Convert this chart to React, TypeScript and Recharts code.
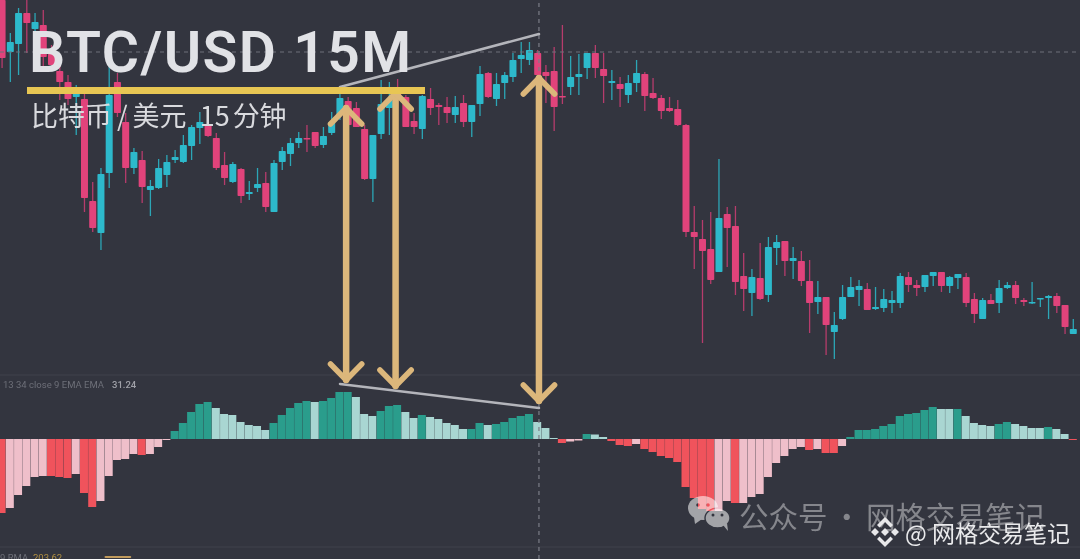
import React from "react";
import { ComposedChart, Bar, XAxis, YAxis, ReferenceLine } from "recharts";

const opens = [1000,948,956,987,971,975,950,929,918,903,901,799,767,827,918,878,832,840,810,812,825,840,838,854,872,876,862,835,818,831,806,812,817,788,838,846,857,862,868,855,867,885,899,892,871,821,866,892,910,903,879,871,901,895,893,885,897,878,896,927,901,917,923,941,940,947,928,929,904,913,923,932,947,931,917,916,905,917,926,907,902,892,891,875,768,761,751,728,786,774,724,707,722,705,752,759,739,739,719,698,703,668,681,703,710,711,691,692,697,697,723,715,713,724,728,714,722,723,701,681,700,697,712,715,700,697,701,702,704,695,666];
const closes = [942,958,987,977,978,943,935,918,901,907,802,772,826,905,887,832,848,813,814,832,838,843,855,873,878,864,832,822,836,804,808,816,793,837,849,857,862,861,854,864,878,902,875,873,821,865,896,900,900,873,873,904,892,893,887,893,878,895,926,903,916,925,940,945,950,925,924,893,903,923,926,947,932,924,919,911,917,927,904,902,889,889,875,768,763,749,720,782,772,718,711,723,701,753,758,739,742,719,697,703,675,675,703,713,714,690,693,701,700,724,715,712,725,728,714,723,726,697,686,700,696,712,715,702,698,698,702,704,694,673,671];
const highs = [1000,967,992,1000,987,990,955,938,925,915,907,818,832,942,927,887,852,849,820,841,845,850,865,875,888,883,867,848,838,832,819,832,828,840,853,862,868,875,868,873,888,908,903,898,875,865,920,918,921,905,887,905,912,897,903,904,905,895,934,928,927,928,947,958,958,950,935,953,975,944,946,947,955,947,930,923,925,940,928,922,905,903,900,876,794,780,788,841,793,794,747,731,757,763,765,759,753,749,740,719,703,688,715,723,720,717,713,711,709,727,728,720,725,728,728,724,726,727,707,702,706,720,718,719,702,718,702,705,707,695,681];
const lows = [932,918,925,947,950,934,930,900,895,865,788,768,750,812,883,817,826,797,784,811,813,837,837,840,856,863,830,815,817,797,800,808,788,788,830,834,852,848,852,852,865,880,870,873,820,798,861,865,892,873,866,861,885,875,877,877,873,863,884,902,894,901,918,927,935,915,897,869,896,905,905,921,922,897,900,893,897,908,889,901,881,888,874,763,731,657,716,728,733,705,689,684,700,698,735,724,721,714,667,686,645,641,680,703,694,690,690,688,687,692,708,704,708,714,708,707,711,693,677,681,696,687,711,696,694,696,693,681,687,666,666];
const macd = [-74,-69,-56,-47,-38,-37,-37,-38,-39,-35,-54,-68,-62,-37,-21,-20,-15,-16,-15,-8,-1,8,16,27,35,37,31,25,24,17,14,13,9,16,24,31,36,38,37,38,41,47,47,42,25,23,28,33,34,27,21,24,22,20,16,14,10,10,16,14,15,17,21,23,25,17,11,1,-4,-2.5,-1.5,5,4.5,2,-2,-6,-7,-5,-10,-13,-17,-19,-23,-48,-59,-70,-72,-72,-62,-64,-64,-58,-55,-38,-24,-17,-10,-8,-11,-10,-14,-14,-7,2,9,9,10,13,15,23,25,26,29,32,30,30,30,23,16,14,13,15,17,15,13,11,11,12,10,5,-1];
const macdStrong = [1,0,0,0,0,0,1,1,1,0,1,1,0,0,0,0,0,1,0,0,0,1,1,1,1,1,0,0,0,0,0,0,0,1,1,1,1,1,0,1,1,1,1,0,0,0,1,1,1,0,0,1,0,0,0,0,0,1,1,0,1,1,1,1,1,0,0,0,1,0,0,1,0,0,1,1,1,0,1,1,1,1,1,1,1,1,1,0,0,1,0,0,0,0,0,0,0,0,1,0,1,1,0,1,1,1,1,1,1,1,1,1,1,1,0,0,1,0,0,0,0,1,1,0,0,0,0,1,0,0,1];

const rows = opens.map((open, i) => ({
  i,
  open,
  close: closes[i],
  high: highs[i],
  low: lows[i],
  range: [lows[i], highs[i]],
  macd: macd[i],
  strong: macdStrong[i] === 1,
}));

const lastPriceLevel = 948;
const crosshairBar = 65.2;
const paneDividers = [625, 453];
const arrowBars = [41.8, 47.8, 65.2];
const arrowTops = [892, 907, 922];
const arrowTips = [620, 614, 599];
const priceTrend = [{ x: 41.06, y: 913 }, { x: 65.2, y: 966 }];
const macdTrend = [{ x: 41.06, y: 616 }, { x: 65.2, y: 592 }];
const titleRule = [{ x: 3.07, y: 909.5 }, { x: 51.37, y: 909.5 }];
const bottomMark = [{ x: 12.6, y: 443 }, { x: 15.6, y: 443 }];

const BG = "#33353f";
const PINK = "#e1437b";
const TEAL = "#2db9cb";
const ARROW = "#dcb77b";

const Candle = (props: any) => {
  const { x, y, width, height, payload } = props;
  const { open, close, high, low } = payload;
  const span = high - low || 1;
  const toY = (p: number) => y + ((high - p) / span) * height;
  const cx = x + width / 2;
  const up = close >= open;
  const top = toY(Math.max(open, close));
  const bottom = toY(Math.min(open, close));
  return (
    <g>
      <line x1={cx} x2={cx} y1={y} y2={y + height} stroke={up ? "#2ca6b6" : "#b63c6c"} strokeWidth={1.3} />
      <rect x={x} y={top} width={width} height={Math.max(bottom - top, 1.5)} rx={0.8} fill={up ? TEAL : PINK} />
    </g>
  );
};

const MacdBar = (props: any) => {
  const { x, y, width, height, payload } = props;
  const fill = payload.macd >= 0
    ? payload.strong ? "#2a9d8c" : "#a9d6d2"
    : payload.strong ? "#f0535c" : "#efbfca";
  return <rect x={x} y={height < 0 ? y + height : y} width={width} height={Math.abs(height)} fill={fill} />;
};

const seg = (key: string, a: any, b: any, stroke: string, strokeWidth: number) => (
  <ReferenceLine
    key={key}
    xAxisId="candles"
    yAxisId="price"
    segment={[a, b]}
    stroke={stroke}
    strokeWidth={strokeWidth}
    strokeLinecap="round"
    ifOverflow="visible"
  />
);

const arrows = arrowBars.flatMap((b, k) => {
  const top = arrowTops[k];
  const tip = arrowTips[k];
  const dx = 1.9;
  const dy = 16;
  return [
    seg(`shaft${k}`, { x: b, y: top }, { x: b, y: tip }, ARROW, 6.5),
    seg(`a${k}`, { x: b, y: top }, { x: b - dx, y: top - dy }, ARROW, 5.5),
    seg(`c${k}`, { x: b, y: top }, { x: b + dx, y: top - dy }, ARROW, 5.5),
    seg(`d${k}`, { x: b, y: tip }, { x: b - dx, y: tip + dy }, ARROW, 5.5),
    seg(`e${k}`, { x: b, y: tip }, { x: b + dx, y: tip + dy }, ARROW, 5.5),
  ];
});

const abs = (o: React.CSSProperties): React.CSSProperties => ({ position: "absolute", whiteSpace: "nowrap", margin: 0, ...o });
const CJK = '"Noto Sans CJK SC", "Noto Sans", sans-serif';

export default function App() {
  return (
    <div style={{ position: "absolute", left: 0, top: 0, width: 1080, height: 559, overflow: "hidden", background: BG }}>
      <ComposedChart width={1080} height={559} data={rows} margin={{ top: 0, right: 0, bottom: 0, left: 0 }}>
        <XAxis xAxisId="candles" dataKey="i" type="number" domain={[-0.206, 130.86]} allowDataOverflow hide />
        <XAxis xAxisId="hist" dataKey="i" type="number" domain={[-0.206, 130.86]} allowDataOverflow hide />
        <YAxis yAxisId="price" domain={[441, 1000]} allowDataOverflow hide />
        <YAxis yAxisId="macd" domain={[-120, 439]} allowDataOverflow hide />
        {paneDividers.map((y) => (
          <ReferenceLine key={y} xAxisId="candles" yAxisId="price" y={y} stroke="#40424c" strokeWidth={1} />
        ))}
        <ReferenceLine xAxisId="candles" yAxisId="price" y={lastPriceLevel} stroke="#6f717a" strokeWidth={1} strokeDasharray="4 4" />
        <Bar xAxisId="candles" yAxisId="price" dataKey="range" barSize={7} shape={Candle} isAnimationActive={false} />
        <Bar xAxisId="hist" yAxisId="macd" dataKey="macd" barSize={8} shape={MacdBar} isAnimationActive={false} />
        <ReferenceLine xAxisId="candles" yAxisId="price" x={crosshairBar} stroke="#7b7d86" strokeWidth={1.2} strokeDasharray="4 4" />
        {seg("t1", priceTrend[0], priceTrend[1], "#b4b5bb", 2.6)}
        {seg("t2", macdTrend[0], macdTrend[1], "#b4b5bb", 2.6)}
        {arrows}
        <ReferenceLine xAxisId="candles" yAxisId="price" segment={titleRule} stroke="#e8c653" strokeWidth={7} ifOverflow="visible" />
        {seg("bm", bottomMark[0], bottomMark[1], "#c09a5c", 2)}
      </ComposedChart>

      <div style={abs({ left: 29, top: 19, fontFamily: "Roboto, sans-serif", fontWeight: 600, fontSize: 57, letterSpacing: 1.5, lineHeight: "68px", color: "#e1e2e6" })}>BTC/USD 15M</div>
      <div style={abs({ left: 31, top: 96, fontFamily: CJK, fontSize: 27, lineHeight: "38px", color: "#d9dade", wordSpacing: 7 })}>
        比特币<span style={{ margin: "0 5px" }}>/</span>美元 15<span style={{ marginLeft: 3 }}>分钟</span>
      </div>
      <div style={abs({ left: 3, top: 379, fontFamily: "Roboto, sans-serif", fontSize: 9.5, lineHeight: "12px", color: "#6d6f78" })}>13 34 close 9 EMA EMA</div>
      <div style={abs({ left: 112, top: 379, fontFamily: "Roboto, sans-serif", fontWeight: 500, fontSize: 9.5, lineHeight: "12px", color: "#a0a1a8" })}>31.24</div>
      <div style={abs({ left: 0, top: 552, fontFamily: "Roboto, sans-serif", fontSize: 9.5, lineHeight: "12px", color: "#6d6f78" })}>9 RMA</div>
      <div style={abs({ left: 33, top: 552, fontFamily: "Roboto, sans-serif", fontSize: 9.5, lineHeight: "12px", color: "#b08f42" })}>203.62</div>

      <svg style={{ position: "absolute", left: 686, top: 495, width: 48, height: 38, mixBlendMode: "screen" }} viewBox="0 0 48 38">
        <ellipse cx="17" cy="13" rx="15" ry="12" fill="#8c8c8c" />
        <path d="M8 22 L9 29 L16 24 z" fill="#8c8c8c" />
        <circle cx="12" cy="10" r="1.8" fill="#000" />
        <circle cx="22" cy="10" r="1.8" fill="#000" />
        <ellipse cx="31.5" cy="23" rx="12.5" ry="10" fill="#8c8c8c" stroke="#000" strokeWidth="1.4" />
        <path d="M37 30 L42 36 L41 28 z" fill="#8c8c8c" />
        <circle cx="27" cy="20" r="1.5" fill="#000" />
        <circle cx="36" cy="20" r="1.5" fill="#000" />
      </svg>
      <div style={abs({ left: 739, top: 494, fontFamily: CJK, fontSize: 29.5, lineHeight: "42px", color: "#85868c" })}>公众号</div>
      <div style={abs({ left: 832, top: 494, fontFamily: CJK, fontSize: 29.5, lineHeight: "42px", color: "#85868c" })}>·</div>
      <div style={abs({ left: 866, top: 494, fontFamily: CJK, fontSize: 29.8, lineHeight: "42px", color: "#85868c" })}>网格交易笔记</div>
      <svg style={{ position: "absolute", left: 869, top: 516, width: 32, height: 32 }} viewBox="-16 -16 32 32">
        <g fill="#e8e8ea">
          <path d="M0-4 4 0 0 4-4 0z" />
          <path d="M-10-4-6 0-10 4-14 0z" />
          <path d="M10-4 14 0 10 4 6 0z" />
          <path d="M0-15 8-7 5.5-4.5 0-10-5.5-4.5-8-7z" />
          <path d="M0 15 8 7 5.5 4.5 0 10-5.5 4.5-8 7z" />
        </g>
      </svg>
      <div style={abs({ left: 905, top: 516, fontFamily: CJK, fontSize: 23, lineHeight: "33px", color: "#eaeaec" })}>@ 网格交易笔记</div>
    </div>
  );
}
